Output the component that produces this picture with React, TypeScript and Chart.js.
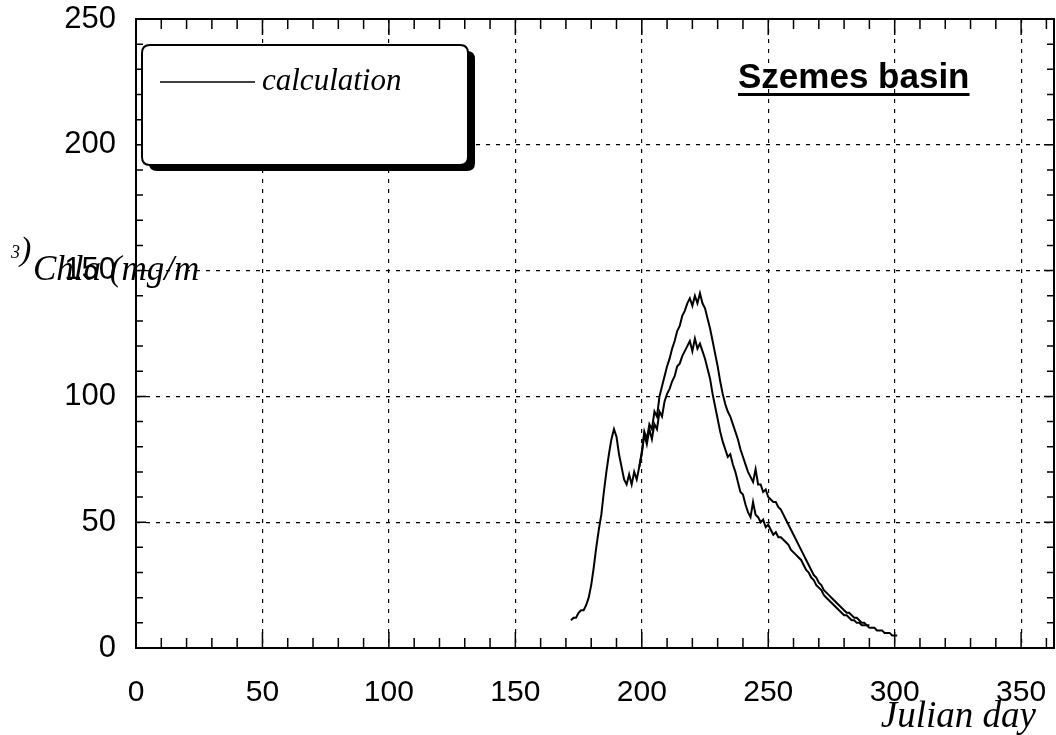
import React, { useEffect, useRef } from "react";
import { Chart, registerables } from "chart.js";

Chart.register(...registerables);

const lowerDays = [
  172, 173, 174, 175, 176, 177, 178, 179, 180, 181, 182, 183, 184, 185, 186, 187, 188, 189, 190, 191,
  192, 193, 194, 195, 196, 197, 198, 199, 200, 201, 202, 203, 204, 205, 206, 207, 208, 209, 210, 211,
  212, 213, 214, 215, 216, 217, 218, 219, 220, 221, 222, 223, 224, 225, 226, 227, 228, 229, 230, 231,
  232, 233, 234, 235, 236, 237, 238, 239, 240, 241, 242, 243, 244, 245, 246, 247, 248, 249, 250, 251,
  252, 253, 254, 255, 256, 257, 258, 259, 260, 261, 262, 263, 264, 265, 266, 267, 268, 269, 270, 271,
  272, 273, 274, 275, 276, 277, 278, 279, 280, 281, 282, 283, 284, 285, 286, 287, 288, 289, 290, 291,
  292, 293, 294, 295, 296, 297, 298, 299, 300, 301,
];
const lowerValues = [
  11, 12, 12, 14, 15, 15, 17, 20, 25, 32, 40, 47, 53, 62, 70, 77, 83, 87, 84, 77,
  72, 67, 65, 69, 65, 70, 67, 72, 77, 85, 81, 87, 83, 89, 87, 94, 92, 98, 101, 103,
  106, 108, 112, 113, 116, 118, 120, 122, 118, 123, 119, 121, 118, 115, 111, 107, 101, 96, 91, 86,
  82, 79, 76, 77, 73, 70, 66, 62, 61, 57, 54, 52, 58, 53, 52, 50, 51, 48, 49, 47,
  45, 46, 44, 44, 43, 42, 41, 39, 38, 37, 36, 35, 33, 31, 30, 28, 27, 25, 24, 23,
  21, 20, 19, 18, 17, 16, 15, 14, 13, 13, 12, 11, 11, 10, 10, 9, 9, 9, 8, 8,
  8, 7, 7, 7, 6, 6, 6, 5, 5, 5,
];

const upperDays = [
  199, 200, 201, 202, 203, 204, 205, 206, 207, 208, 209, 210, 211, 212, 213, 214, 215, 216, 217, 218,
  219, 220, 221, 222, 223, 224, 225, 226, 227, 228, 229, 230, 231, 232, 233, 234, 235, 236, 237, 238,
  239, 240, 241, 242, 243, 244, 245, 246, 247, 248, 249, 250, 251, 252, 253, 254, 255, 256, 257, 258,
  259, 260, 261, 262, 263, 264, 265, 266, 267, 268, 269, 270, 271, 272, 273, 274, 275, 276, 277, 278,
  279, 280, 281, 282, 283, 284, 285, 286, 287, 288, 289, 290,
];
const upperValues = [
  72, 78, 86, 83, 89, 87, 94, 92, 100, 104, 108, 112, 115, 119, 122, 126, 128, 132, 134, 137,
  139, 136, 140, 137, 141, 137, 135, 131, 127, 122, 117, 112, 106, 101, 97, 94, 92, 89, 86, 83,
  79, 76, 73, 70, 68, 66, 71, 65, 65, 62, 63, 60, 59, 58, 58, 56, 55, 53, 51, 49,
  47, 45, 43, 41, 39, 37, 35, 33, 31, 29, 28, 26, 25, 23, 22, 21, 20, 19, 18, 17,
  16, 15, 14, 14, 13, 12, 12, 11, 10, 10, 9, 9,
];

const xTickLabels = ["0", "50", "100", "150", "200", "250", "300", "350"];
const yTickLabels = ["0", "50", "100", "150", "200", "250"];

const titleText = "Szemes basin";
const legendText = "calculation";
const xAxisTitle = "Julian day";
const yAxisTitleMain = "Chla (mg/m";

const decorPlugin = {
  id: "decor",
  afterDraw(chart: any) {
    const { ctx, chartArea, scales } = chart;
    const xs = scales.x;
    const ys = scales.y;
    const { left, right, top, bottom } = chartArea;
    ctx.save();
    ctx.strokeStyle = "#000";
    ctx.fillStyle = "#000";
    ctx.setLineDash([]);
    ctx.lineWidth = 1.5;
    for (let v = 10; v < 365; v += 10) {
      const px = xs.getPixelForValue(v);
      const len = v % 50 === 0 ? 16 : 10;
      ctx.beginPath();
      ctx.moveTo(px, bottom);
      ctx.lineTo(px, bottom - len);
      ctx.moveTo(px, top);
      ctx.lineTo(px, top + len);
      ctx.stroke();
    }
    for (let v = 10; v < 250; v += 10) {
      const py = ys.getPixelForValue(v);
      const len = v % 50 === 0 ? 10 : 7;
      ctx.beginPath();
      ctx.moveTo(left, py);
      ctx.lineTo(left + len, py);
      ctx.moveTo(right, py);
      ctx.lineTo(right - len, py);
      ctx.stroke();
    }
    ctx.lineWidth = 2;
    ctx.strokeRect(left, top, right - left, bottom - top);

    // legend box with shadow
    const bx = 142, by = 45, bw = 326, bh = 120, r = 8;
    const rr = (x: number, y: number, w: number, h: number) => {
      ctx.beginPath();
      ctx.moveTo(x + r, y);
      ctx.lineTo(x + w - r, y);
      ctx.quadraticCurveTo(x + w, y, x + w, y + r);
      ctx.lineTo(x + w, y + h - r);
      ctx.quadraticCurveTo(x + w, y + h, x + w - r, y + h);
      ctx.lineTo(x + r, y + h);
      ctx.quadraticCurveTo(x, y + h, x, y + h - r);
      ctx.lineTo(x, y + r);
      ctx.quadraticCurveTo(x, y, x + r, y);
      ctx.closePath();
    };
    rr(bx + 7, by + 6, bw, bh);
    ctx.fillStyle = "#000";
    ctx.fill();
    rr(bx, by, bw, bh);
    ctx.fillStyle = "#fff";
    ctx.fill();
    ctx.lineWidth = 2;
    ctx.strokeStyle = "#000";
    ctx.stroke();
    ctx.lineWidth = 1.6;
    ctx.beginPath();
    ctx.moveTo(160, 82);
    ctx.lineTo(255, 82);
    ctx.stroke();
    ctx.fillStyle = "#000";
    ctx.font = "italic 31px 'Liberation Serif'";
    ctx.textBaseline = "alphabetic";
    ctx.textAlign = "left";
    ctx.fillText(legendText, 262, 90);

    // title
    ctx.font = "bold 35px 'Liberation Sans'";
    ctx.textAlign = "left";
    ctx.fillText(titleText, 738, 88);
    const tw = ctx.measureText(titleText).width;
    ctx.fillRect(738, 93, tw, 3);

    // y axis title (horizontal, overlapping the 150 label as in the original)
    ctx.font = "italic 35px 'Liberation Serif'";
    ctx.fillText(yAxisTitleMain, 33, 280);
    ctx.font = "italic 18px 'Liberation Serif'";
    ctx.fillText("3", 11, 258);
    ctx.font = "italic 34px 'Liberation Serif'";
    ctx.fillText(")", 20, 260);

    // x axis title
    ctx.font = "italic 37px 'Liberation Serif'";
    ctx.textAlign = "right";
    ctx.fillText(xAxisTitle, 1036, 727);
    ctx.restore();
  },
};

export default function App() {
  const ref = useRef<HTMLCanvasElement | null>(null);
  useEffect(() => {
    document.body.style.margin = "0";
    if (!ref.current) return;
    const chart = new Chart(ref.current, {
      type: "line",
      data: {
        datasets: [
          {
            label: "calculation",
            data: lowerDays.map((d, i) => ({ x: d, y: lowerValues[i] })),
            borderColor: "#000",
            borderWidth: 2,
            pointRadius: 0,
            tension: 0,
          },
          {
            label: "calculation upper",
            data: upperDays.map((d, i) => ({ x: d, y: upperValues[i] })),
            borderColor: "#000",
            borderWidth: 2,
            pointRadius: 0,
            tension: 0,
          },
        ],
      },
      options: {
        responsive: false,
        animation: false,
        layout: { padding: { top: 19, right: 2, left: 0, bottom: 0 } },
        plugins: { legend: { display: false }, tooltip: { enabled: false } },
        scales: {
          x: {
            type: "linear",
            min: 0,
            max: 363,
            afterBuildTicks: (s: any) => {
              s.ticks = xTickLabels.map((t) => ({ value: Number(t) }));
            },
            afterFit: (s: any) => {
              s.height = 87;
              s.paddingLeft = 0;
              s.paddingRight = 0;
            },
            ticks: {
              color: "#000",
              font: { family: "'Liberation Sans'", size: 30 },
              padding: 27,
              maxRotation: 0,
              autoSkip: false,
              callback: (v: any) => String(v),
            },
            grid: { color: "#000", lineWidth: 1.2, drawTicks: false },
            border: { display: false, dash: [4, 6] },
          },
          y: {
            type: "linear",
            min: 0,
            max: 250,
            afterBuildTicks: (s: any) => {
              s.ticks = yTickLabels.map((t) => ({ value: Number(t) }));
            },
            afterFit: (s: any) => {
              s.width = 136;
              s.paddingTop = 0;
              s.paddingBottom = 0;
            },
            ticks: {
              color: "#000",
              font: { family: "'Liberation Sans'", size: 31 },
              padding: 20,
              autoSkip: false,
              callback: (v: any) => String(v),
            },
            grid: { color: "#000", lineWidth: 1.2, drawTicks: false },
            border: { display: false, dash: [4, 6] },
          },
        },
      },
      plugins: [decorPlugin],
    });
    return () => chart.destroy();
  }, []);
  return (
    <div style={{ width: 1056, height: 735, background: "#fff" }}>
      <canvas ref={ref} width={1056} height={735} style={{ display: "block" }} />
    </div>
  );
}
